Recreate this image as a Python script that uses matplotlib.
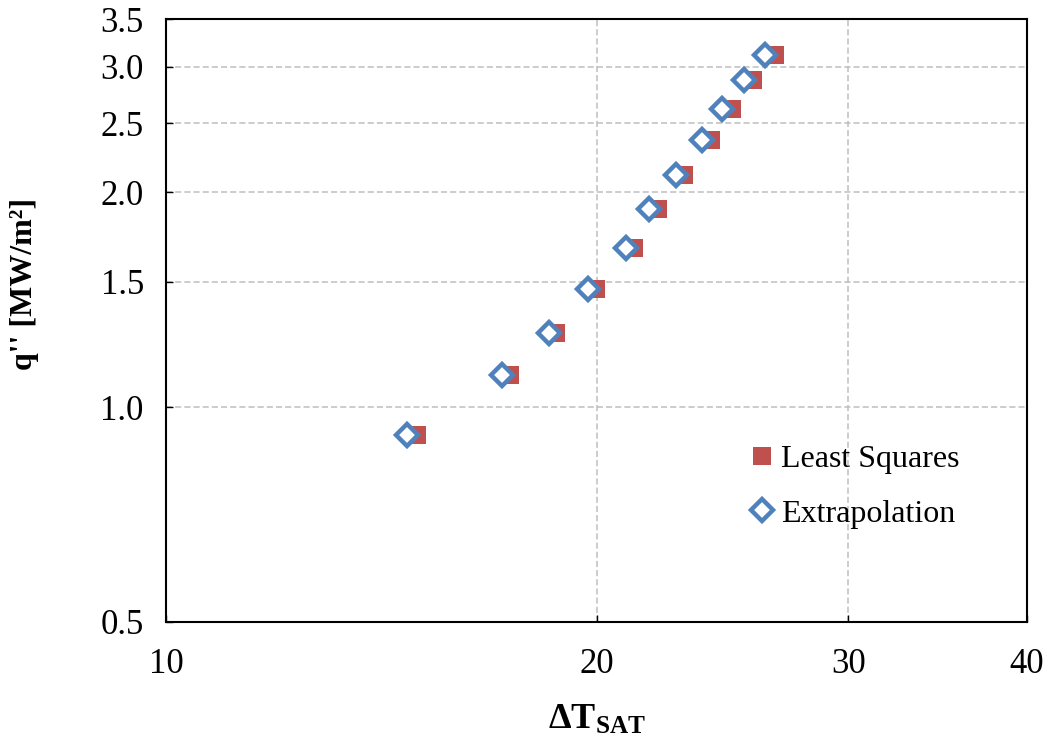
import matplotlib
matplotlib.use("Agg")
import matplotlib.pyplot as plt
from matplotlib.ticker import FixedLocator, FixedFormatter, NullLocator

plt.rcParams['font.family'] = ['Liberation Serif', 'DejaVu Serif']
plt.rcParams['mathtext.fontset'] = 'custom'
plt.rcParams['mathtext.rm'] = 'Liberation Serif'
plt.rcParams['mathtext.bf'] = 'Liberation Serif:bold'

# Data
ls_dt = [14.98, 17.40, 18.73, 19.99, 21.23, 22.08, 23.01, 24.03, 24.86, 25.75, 26.64]
ls_q = [0.914, 1.111, 1.272, 1.465, 1.672, 1.898, 2.113, 2.371, 2.615, 2.871, 3.119]
ex_dt = [14.74, 17.18, 18.52, 19.74, 20.98, 21.78, 22.73, 23.71, 24.48, 25.37, 26.23]
ex_q = [0.914, 1.111, 1.272, 1.465, 1.672, 1.898, 2.113, 2.371, 2.615, 2.871, 3.119]

x_ticks = [10, 20, 30, 40]
y_ticks = [0.5, 1.0, 1.5, 2.0, 2.5, 3.0, 3.5]
x_tick_labels = ['10', '20', '30', '40']
y_tick_labels = ['0.5', '1.0', '1.5', '2.0', '2.5', '3.0', '3.5']

fig = plt.figure(figsize=(10.51, 7.42), dpi=100)
ax = fig.add_axes([166/1051, (742-622)/742, 861/1051, 603/742])
ax.set_xscale('log')
ax.set_yscale('log')
ax.set_xlim(10, 40)
ax.set_ylim(0.5, 3.5)

red = '#C0504D'
blue = '#4F81BD'

ax.plot(ls_dt, ls_q, linestyle='none', marker='s', markersize=13.6,
        markerfacecolor=red, markeredgecolor=red, markeredgewidth=0,
        label='Least Squares', zorder=3)
ax.plot(ex_dt, ex_q, linestyle='none', marker='D', markersize=11.2,
        markerfacecolor='white', markeredgecolor=blue, markeredgewidth=3.2,
        label='Extrapolation', zorder=4)

ax.xaxis.set_major_locator(FixedLocator(x_ticks))
ax.xaxis.set_major_formatter(FixedFormatter(x_tick_labels))
ax.yaxis.set_major_locator(FixedLocator(y_ticks))
ax.yaxis.set_major_formatter(FixedFormatter(y_tick_labels))
ax.xaxis.set_minor_locator(NullLocator())
ax.yaxis.set_minor_locator(NullLocator())

ax.grid(True, which='major', color='#BFBFBF', linestyle=(0, (4, 2)), linewidth=1.1, zorder=0)
ax.set_axisbelow(True)

ax.tick_params(axis='both', which='major', direction='in', length=5, width=1,
               labelsize=25, color='black')
ax.tick_params(axis='x', pad=19)
ax.tick_params(axis='y', pad=16)
for s in ax.spines.values():
    s.set_linewidth(1.5)
    s.set_color('black')

ax.set_xlabel(r'$\mathbf{\Delta T_{SAT}}$', fontsize=26)
ax.xaxis.set_label_coords(0.5, -0.135)
ax.set_ylabel("q'' [MW/m²]", fontsize=23, fontweight='bold')
ax.yaxis.set_label_coords(-0.148, 0.56)

leg = ax.legend(loc='upper left', bbox_to_anchor=(752/1051, (742-445)/742),
                bbox_transform=fig.transFigure, frameon=False, fontsize=23,
                handlelength=0.6, handletextpad=0.3, labelspacing=0.78,
                borderpad=0, borderaxespad=0)

fig.savefig('out.png', dpi=100)
